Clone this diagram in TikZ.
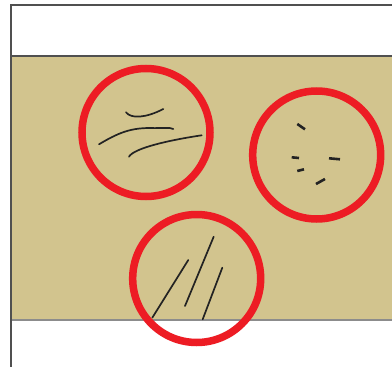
\documentclass[tikz,border=0pt]{standalone}
\begin{document}
\begin{tikzpicture}[x=1pt,y=-1pt,
  ring/.style={draw=ringred,line width=7.5pt},
  fiber/.style={draw=inkdark,line width=1.7pt,line cap=round},
  chip/.style={draw=inkdark,line width=2.6pt},
  frameline/.style={draw=framegray,line width=1.4pt}]
\definecolor{tan}{RGB}{210,196,142}
\definecolor{ringred}{RGB}{237,28,36}
\definecolor{inkdark}{RGB}{35,35,35}
\definecolor{framegray}{RGB}{80,80,80}
\definecolor{bandgray}{RGB}{140,140,140}
\useasboundingbox (0,0) rectangle (392,367);
\fill[white] (0,0) rectangle (392,367);
% band
\fill[tan] (11,56) rectangle (392,320);
\draw[draw=framegray,line width=1.6pt] (11,56) -- (392,56);
\draw[draw=bandgray,line width=1.8pt] (11,320) -- (392,320);
% frame
\draw[frameline] (392,5) -- (11,5) -- (11,367);
% circles
\draw[ring] (146,132.5) circle[radius=64pt];
\draw[ring] (316.7,155) circle[radius=64pt];
\draw[ring] (196.7,278.5) circle[radius=64pt];
% circle 1 fibers
\draw[fiber] (126,112.3) .. controls (131,119) and (146,118) .. (163.3,109);
\draw[fiber] (99,144.3) .. controls (118,133) and (130,128) .. (150,128) .. controls (162,128.5) and (170,127) .. (173.3,129);
\draw[fiber] (129,156.7) .. controls (134,148) and (170,140) .. (201.7,135.3);
% circle 2 chips
\draw[chip] (297.3,124) -- (305,129.3);
\draw[chip] (291.7,157.3) -- (299,158);
\draw[chip] (329,158.3) -- (340,159.3);
\draw[chip] (297.3,171) -- (304,169.3);
\draw[chip] (316,184) -- (325,179);
% circle 3 lines
\draw[fiber] (152.3,317.7) -- (188.3,260);
\draw[fiber] (185,306) -- (213.7,236.7);
\draw[fiber] (202.7,319.3) -- (222.3,267.7);
\end{tikzpicture}
\end{document}
